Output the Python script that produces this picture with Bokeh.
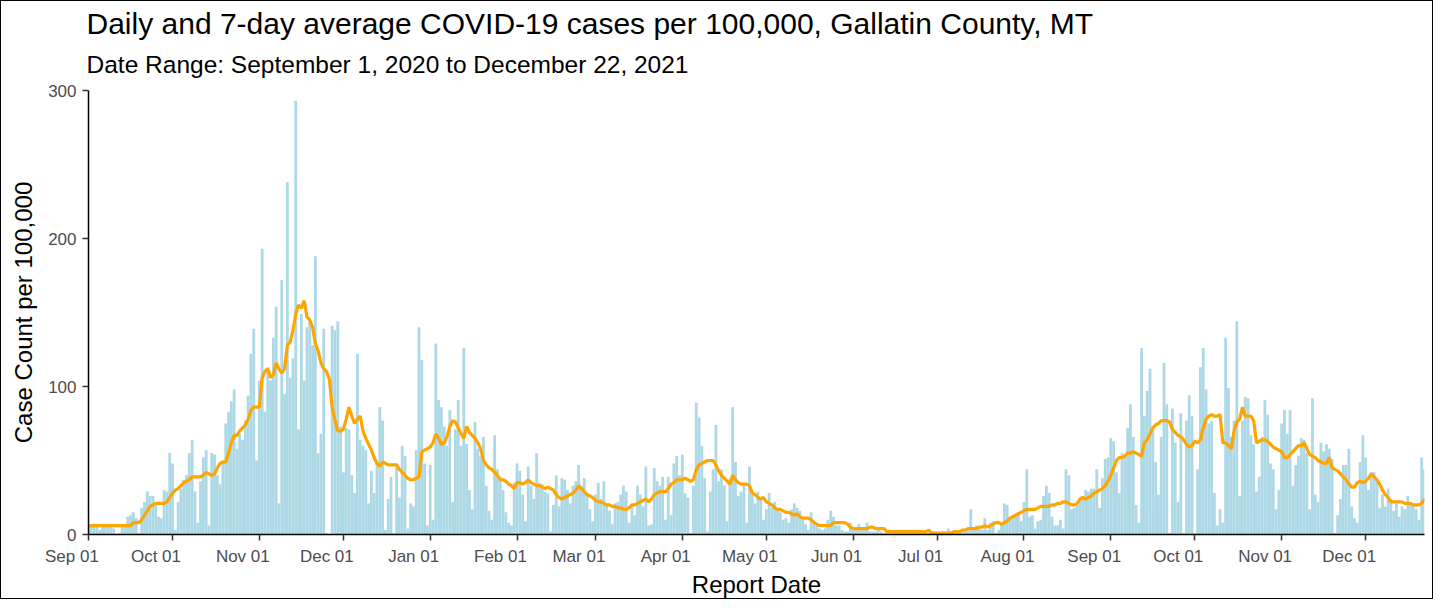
import pandas as pd
from bokeh.plotting import figure
from bokeh.models import Range1d, FixedTicker, Title, ColumnDataSource
from bokeh.embed import file_html
from bokeh.resources import INLINE

# ---------------- data ----------------
start_date = "2020-09-01"

daily_cases = [
    6, 7, 5, 6, 3, 6, 5, 6, 7, 4,
    0, 1, 5, 6, 12, 13, 15, 11, 1, 18,
    22, 29, 26, 26, 22, 12, 11, 30, 29, 55,
    48, 3, 22, 31, 37, 40, 55, 64, 29, 8,
    36, 52, 57, 6, 55, 54, 40, 34, 50, 75,
    83, 90, 98, 58, 68, 64, 77, 94, 122, 139,
    50, 104, 193, 83, 113, 104, 133, 154, 21, 172,
    95, 238, 106, 119, 293, 71, 149, 104, 140, 145,
    128, 188, 55, 68, 139, 1, 0, 141, 138, 144,
    73, 42, 72, 71, 40, 28, 122, 64, 60, 57,
    21, 43, 28, 50, 86, 77, 3, 24, 39, 1,
    48, 25, 60, 53, 4, 21, 19, 57, 140, 118,
    48, 6, 47, 10, 129, 91, 86, 73, 60, 84,
    22, 71, 91, 60, 126, 61, 30, 17, 76, 58,
    53, 66, 33, 16, 10, 67, 44, 39, 30, 15,
    8, 6, 35, 48, 43, 27, 9, 46, 33, 24,
    55, 35, 34, 29, 28, 2, 20, 40, 19, 38,
    37, 30, 21, 33, 36, 47, 33, 38, 27, 17,
    9, 27, 35, 24, 36, 21, 16, 7, 21, 22,
    27, 33, 29, 8, 20, 13, 33, 27, 19, 46,
    6, 7, 45, 36, 33, 39, 10, 39, 13, 48,
    53, 40, 54, 28, 25, 1, 33, 89, 79, 60,
    38, 2, 29, 44, 74, 36, 44, 33, 9, 38,
    86, 49, 26, 29, 33, 8, 46, 27, 21, 29,
    24, 10, 17, 28, 18, 22, 17, 15, 10, 11,
    8, 17, 21, 18, 16, 10, 7, 3, 15, 8,
    6, 4, 3, 4, 10, 16, 12, 6, 6, 3,
    2, 2, 8, 3, 5, 7, 3, 4, 8, 2,
    2, 2, 3, 2, 1, 2, 1, 2, 3, 1,
    2, 3, 1, 2, 3, 1, 2, 1, 2, 3,
    1, 1, 0, 1, 1, 2, 1, 4, 2, 2,
    3, 2, 3, 2, 3, 17, 3, 6, 4, 3,
    11, 3, 8, 9, 1, 3, 7, 21, 20, 10,
    11, 12, 15, 9, 22, 44, 12, 13, 4, 9,
    10, 26, 33, 28, 12, 6, 6, 10, 4, 44,
    40, 17, 18, 20, 24, 26, 30, 29, 31, 31,
    44, 18, 38, 51, 52, 65, 63, 42, 28, 55,
    54, 72, 88, 66, 20, 8, 126, 80, 97, 112,
    71, 49, 27, 66, 116, 88, 1, 85, 62, 22,
    82, 1, 77, 94, 80, 1, 44, 113, 126, 98,
    75, 77, 28, 6, 17, 8, 133, 99, 66, 77,
    144, 26, 77, 93, 92, 67, 61, 29, 39, 66,
    91, 81, 48, 44, 17, 30, 75, 84, 68, 84,
    33, 47, 53, 65, 64, 55, 17, 92, 27, 22,
    62, 56, 61, 58, 51, 1, 13, 24, 47, 47,
    58, 19, 11, 8, 49, 67, 52, 30, 42, 42,
    37, 18, 27, 19, 31, 24, 16, 21, 12, 19,
    17, 26, 20, 20, 17, 10, 52, 44,
]

avg_7day = [
    6, 6, 6, 6, 6, 6, 6, 6, 6, 6,
    6, 6, 6, 6, 6, 6, 8, 8, 8, 10,
    13, 16, 19, 20, 21, 21, 21, 21, 22, 25,
    28, 30, 31, 33, 35, 36, 37, 39, 39, 39,
    39, 40, 42, 41, 40, 41, 45, 48, 49, 49,
    55, 62, 67, 67, 70, 72, 74, 78, 84, 86,
    86, 86, 106, 110, 112, 106, 108, 116, 112, 109,
    112, 128, 130, 138, 149, 155, 153, 158, 147, 145,
    140, 129, 124, 116, 112, 110, 105, 86, 77, 70,
    70, 71, 78, 86, 80, 75, 78, 80, 70, 65,
    61, 57, 52, 48, 46, 49, 48, 47, 47, 47,
    47, 44, 42, 40, 38, 37, 37, 38, 39, 56,
    57, 58, 59, 62, 68, 65, 61, 62, 66, 73,
    77, 76, 72, 68, 65, 73, 69, 67, 65, 62,
    58, 50, 47, 45, 44, 42, 40, 37, 37, 36,
    34, 33, 31, 35, 35, 34, 35, 37, 35, 34,
    33, 33, 32, 31, 32, 31, 30, 27, 25, 24,
    25, 26, 27, 28, 30, 33, 31, 29, 27, 26,
    25, 23, 22, 22, 21, 20, 20, 19, 19, 18,
    18, 17, 17, 18, 20, 20, 21, 22, 23, 24,
    22, 24, 27, 28, 29, 29, 29, 31, 34, 35,
    37, 37, 37, 38, 37, 36, 37, 44, 47, 48,
    49, 50, 50, 50, 47, 43, 40, 38, 36, 34,
    40, 37, 35, 34, 34, 34, 33, 28, 27, 25,
    24, 25, 22, 21, 20, 18, 17, 17, 16, 15,
    15, 14, 13, 14, 12, 11, 11, 11, 10, 8,
    7, 6, 6, 6, 6, 6, 8, 8, 8, 8,
    8, 7, 5, 4, 4, 4, 4, 4, 4, 5,
    5, 4, 4, 4, 4, 2, 2, 2, 2, 2,
    2, 2, 2, 2, 2, 2, 2, 2, 2, 2,
    3, 1, 1, 1, 1, 1, 1, 1, 1, 2,
    2, 2, 3, 3, 4, 4, 4, 4, 5, 5,
    6, 5, 6, 7, 8, 8, 7, 8, 9, 11,
    12, 13, 14, 15, 16, 17, 17, 17, 17, 18,
    19, 19, 19, 19, 20, 20, 21, 21, 22, 22,
    21, 20, 20, 21, 24, 25, 24, 25, 26, 28,
    29, 30, 31, 33, 36, 40, 45, 50, 52, 52,
    53, 55, 55, 56, 55, 54, 53, 62, 64, 68,
    72, 74, 75, 77, 77, 77, 76, 71, 69, 67,
    66, 64, 61, 59, 60, 63, 62, 64, 72, 78,
    80, 81, 80, 80, 81, 62, 62, 60, 58, 70,
    76, 78, 86, 80, 80, 80, 77, 62, 63, 64,
    64, 63, 61, 59, 58, 57, 56, 52, 52, 54,
    56, 58, 60, 60, 62, 58, 54, 53, 52, 50,
    49, 48, 48, 52, 45, 44, 43, 41, 39, 37,
    34, 32, 32, 35, 36, 35, 36, 38, 41, 39,
    37, 34, 30, 27, 25, 22, 22, 22, 22, 22,
    21, 21, 21, 20, 20, 20, 21, 24,
]

x_tick_dates = ["2020-09-01", "2020-10-01", "2020-11-01", "2020-12-01",
                "2021-01-01", "2021-02-01", "2021-03-01", "2021-04-01",
                "2021-05-01", "2021-06-01", "2021-07-01", "2021-08-01",
                "2021-09-01", "2021-10-01", "2021-11-01", "2021-12-01"]
x_tick_labels = ["Sep 01", "Oct 01", "Nov 01", "Dec 01", "Jan 01", "Feb 01",
                 "Mar 01", "Apr 01", "May 01", "Jun 01", "Jul 01", "Aug 01",
                 "Sep 01", "Oct 01", "Nov 01", "Dec 01"]
y_ticks = [0, 100, 200, 300]

title_text = "Daily and 7-day average COVID-19 cases per 100,000, Gallatin County, MT"
subtitle_text = "Date Range: September 1, 2020 to December 22, 2021"
x_label = "Report Date"
y_label = "Case Count per 100,000"

# ---------------- figure ----------------
dates = pd.date_range(start_date, periods=len(daily_cases), freq="D")
src = ColumnDataSource(dict(date=dates, daily=daily_cases, avg=avg_7day))

FONT = "Liberation Sans"
DAY_MS = 86400000
# trailing no-break spaces move each label's visible text a little to the
# left of its tick, as in the reference
LABEL_PAD = "\u00a0" * 7

p = figure(width=1433, height=599, x_axis_type="datetime",
           output_backend="svg", toolbar_location=None,
           title=title_text,
           x_range=Range1d(dates[0].to_pydatetime(), dates[-1].to_pydatetime()),
           y_range=Range1d(0, 300),
           min_border_left=87, min_border_right=10,
           min_border_top=89, min_border_bottom=65)
p.styles = {"border": "1.5px solid black"}

# main title (outermost)
p.title.text_font = FONT
p.title.text_font_size = "30px"
p.title.text_font_style = "normal"
p.title.text_color = "black"
p.title.align = "left"
p.title.offset = -2
p.title.standoff = -9

# subtitle, nearest to the plot area
p.add_layout(Title(text=subtitle_text, text_font=FONT, text_font_size="24.5px",
                   text_font_style="normal", text_color="black",
                   align="left", offset=-2, standoff=26), "above")

p.vbar(x="date", top="daily", width=1.0 * DAY_MS, source=src,
       fill_color="#ADD8E6", line_color=None)
p.line(x="date", y="avg", source=src, line_color="#FFA500", line_width=3.2)

p.xgrid.visible = False
p.ygrid.visible = False
p.outline_line_color = None
p.background_fill_color = "white"
p.border_fill_color = "white"

tick_ms = [pd.Timestamp(d).value / 1e6 for d in x_tick_dates]

xa = p.xaxis[0]
xa.ticker = FixedTicker(ticks=tick_ms)
xa.major_label_overrides = {t: lab + LABEL_PAD for t, lab in zip(tick_ms, x_tick_labels)}

ya = p.yaxis[0]
ya.ticker = FixedTicker(ticks=y_ticks)

for ax in (xa, ya):
    ax.axis_line_color = "black"
    ax.axis_line_width = 1.5
    ax.major_tick_line_color = "#333333"
    ax.major_tick_line_width = 1.5
    ax.major_tick_out = 6
    ax.major_tick_in = 0
    ax.minor_tick_line_color = None
    ax.major_label_text_font = FONT
    ax.major_label_text_font_size = "17px"
    ax.major_label_text_color = "#4D4D4D"
    ax.major_label_standoff = 6
    ax.axis_label_text_font = FONT
    ax.axis_label_text_font_size = "24px"
    ax.axis_label_text_font_style = "normal"
    ax.axis_label_text_color = "black"

xa.axis_label_standoff = 2
ya.axis_label_standoff = 8
xa.axis_label = x_label
ya.axis_label = y_label

open("out.html", "w").write(file_html(p, INLINE))
